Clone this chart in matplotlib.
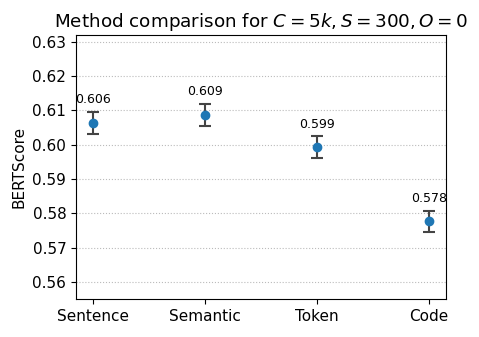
import matplotlib
matplotlib.use("Agg")
import matplotlib.pyplot as plt

methods = ["Sentence", "Semantic", "Token", "Code"]
means = [0.6064, 0.6087, 0.5993, 0.5777]
errors = [0.0032, 0.0033, 0.0032, 0.0031]

fig = plt.figure(figsize=(4.79, 3.37), dpi=100)
ax = fig.add_axes([76/479, 1-299/337, 370/479, 264/337])
x = list(range(len(methods)))
ax.errorbar(x, means, yerr=errors, fmt='o', color='#1f77b4', ecolor='#444444',
            capsize=4, markersize=6, elinewidth=1.5, capthick=1.5, zorder=3)
for xi, m, e in zip(x, means, errors):
    ax.annotate(f"{m:.3f}", (xi, m + e), xytext=(0, 4), textcoords='offset points',
                ha='center', va='bottom', fontsize=9)
ax.set_xticks(x)
ax.set_xticklabels(methods, fontsize=11)
ax.set_xlim(-0.15, 3.15)
ax.set_ylim(0.555, 0.632)
ax.set_yticks([0.56, 0.57, 0.58, 0.59, 0.60, 0.61, 0.62, 0.63])
ax.tick_params(axis='y', labelsize=11)
ax.set_ylabel("BERTScore", fontsize=11)
ax.set_title("Method comparison for $C=5k, S=300, O=0$", fontsize=13.2)
ax.grid(axis='y', linestyle=':', color='#bbbbbb', linewidth=0.8)
ax.set_axisbelow(True)
fig.savefig("out.png", dpi=100)
